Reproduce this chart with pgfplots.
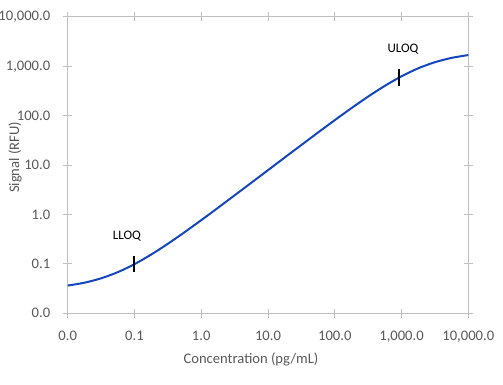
\documentclass[border=0pt]{standalone}
\usepackage{pgfplots}
\pgfplotsset{compat=1.18}
\usepackage{fontspec}
\setmainfont{Carlito}
\definecolor{txtgray}{HTML}{595959}
\definecolor{axgray}{HTML}{BFBFBF}
\definecolor{curveblue}{RGB}{20,70,190}
\begin{document}
\begin{tikzpicture}
\path[use as bounding box] (0,0) rectangle (503pt,385pt);
\begin{axis}[
  at={(67.7pt,71.7pt)}, anchor=south west,
  scale only axis, width=400.6pt, height=296.3pt,
  xmode=log, ymode=log,
  xmin=0.01, xmax=10000, ymin=0.01, ymax=10000,
  xtick={0.01,0.1,1,10,100,1000,10000},
  xticklabels={0.0,0.1,1.0,10.0,100.0,{1,000.0},{10,000.0}},
  ytick={0.01,0.1,1,10,100,1000,10000},
  yticklabels={0.0,0.1,1.0,10.0,100.0,{1,000.0},{10,000.0}},
  xminorticks=false, yminorticks=false,
  /pgf/number format/assume math mode=true,
  axis line style={draw=axgray, line width=1pt},
  tick style={draw=axgray, line width=1pt},
  tick align=center, major tick length=9pt,
  ticklabel style={font=\fontsize{14.6}{17}\selectfont, text=txtgray},
  xticklabel style={yshift=-10pt},
  yticklabel style={xshift=-9.5pt},
  xlabel={Concentration (pg/mL)},
  ylabel={Signal (RFU)},
  label style={font=\fontsize{14.6}{17}\selectfont, text=txtgray},
  xlabel style={at={(axis description cs:0.4576,0)}, anchor=center, yshift=-45.7pt},
  ylabel style={at={(axis description cs:-0.1316,0.526)}, anchor=center, rotate=0},
  clip=false,
]
\addplot[curveblue, line width=2pt, smooth] coordinates {
(0.01,0.03644) (0.017783,0.04164) (0.031623,0.05107) (0.056234,0.06812)
(0.1,0.09896) (0.17783,0.15475) (0.31623,0.25571) (0.56234,0.43833)
(1,0.76866) (1.7783,1.3661) (3.1623,2.446) (5.6234,4.397)
(10,7.917) (17.783,14.256) (31.623,25.62) (56.234,45.87)
(100,81.5) (177.83,142.85) (316.23,244.6) (562.34,403.6)
(1000,630.0) (1778.3,913.0) (3162.3,1214.5) (5623.4,1485.8)
(10000,1695.0)
};
\addplot[only marks, mark=|, mark size=8.25pt, mark options={line width=2pt, draw=black}] coordinates {
(0.1,0.099) (920,593)
};
\node[font=\fontsize{13}{15}\selectfont, text=black] at (axis cs:0.0773,0.367) {LLOQ};
\node[font=\fontsize{13}{15}\selectfont, text=black] at (axis cs:1052,2208) {ULOQ};
\end{axis}
\end{tikzpicture}
\end{document}
